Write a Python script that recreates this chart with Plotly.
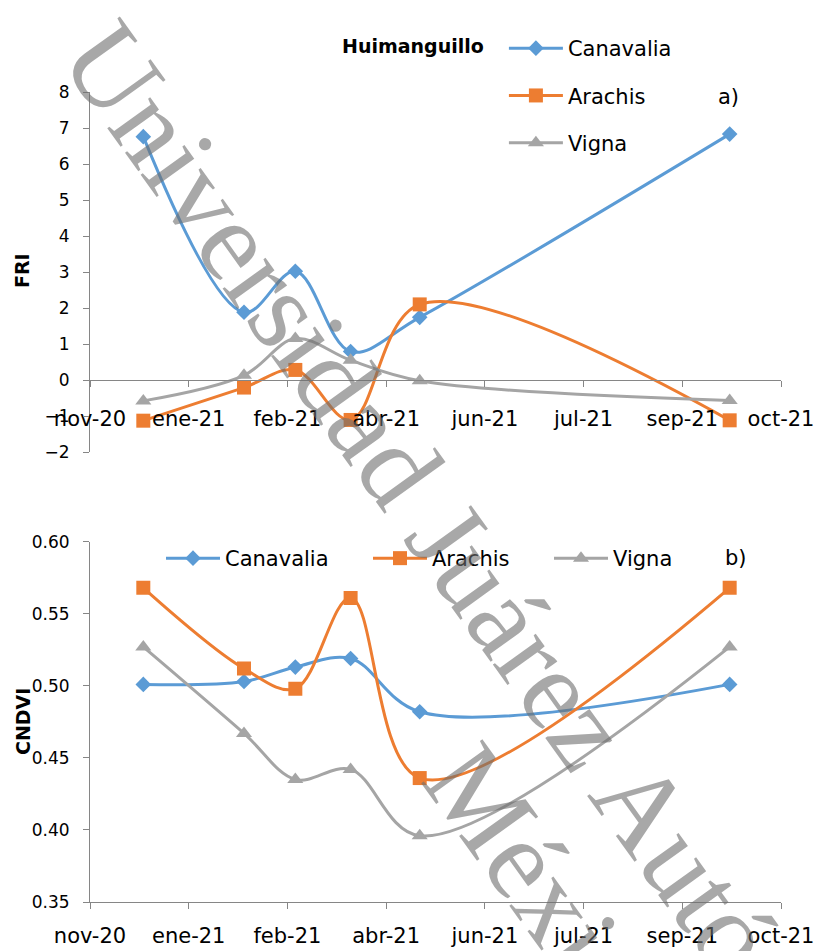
import plotly.graph_objects as go

# ---------------- data ----------------
dates = ["2020-12-11", "2021-01-31", "2021-02-26", "2021-03-26", "2021-04-30", "2021-10-04"]

fri_canavalia = [6.76, 1.88, 3.02, 0.79, 1.74, 6.83]
fri_arachis = [-1.13, -0.21, 0.28, -1.11, 2.10, -1.12]
fri_vigna = [-0.58, 0.13, 1.15, 0.55, -0.02, -0.57]

cndvi_canavalia = [0.501, 0.503, 0.513, 0.519, 0.482, 0.501]
cndvi_arachis = [0.568, 0.512, 0.498, 0.561, 0.436, 0.568]
cndvi_vigna = [0.527, 0.467, 0.435, 0.442, 0.396, 0.527]

x_range = ["2020-11-14", "2021-10-30"]
tick_vals = ["2020-11-14", "2021-01-03", "2021-02-22", "2021-04-13",
             "2021-06-02", "2021-07-22", "2021-09-10", "2021-10-30"]
tick_text = ["nov-20", "ene-21", "feb-21", "abr-21", "jun-21", "jul-21", "sep-21", "oct-21"]

series_names = ["Canavalia", "Arachis", "Vigna"]
colors = ["#5B9BD5", "#ED7D31", "#A5A5A5"]
symbols = ["diamond", "square", "triangle-up"]
sizes = [12, 14, 14]

FONT = "DejaVu Sans"
AXIS_COLOR = "#868686"

# ---------------- geometry helpers ----------------
W, H = 817, 951
ML, MR, MT, MB = 90, 36, 92, 49
PW, PH = W - ML - MR, H - MT - MB


def px(xp):
    return (xp - ML) / PW


def py(yp):
    return (H - MB - yp) / PH


top_dom = [py(452), 1.0]
bot_dom = [0.0, py(541.7)]
zero_pos = top_dom[0] + (top_dom[1] - top_dom[0]) * 0.2

fig = go.Figure()

top_sets = [fri_canavalia, fri_arachis, fri_vigna]
bot_sets = [cndvi_canavalia, cndvi_arachis, cndvi_vigna]
bot_legends = ["legend2", "legend3", "legend4"]
bot_legend_x = [161, 368, 549]

for i, (name, vals) in enumerate(zip(series_names, top_sets)):
    fig.add_trace(go.Scatter(
        x=dates, y=vals, name=name, mode="lines+markers",
        line=dict(color=colors[i], width=3, shape="spline", smoothing=1),
        marker=dict(symbol=symbols[i], size=sizes[i], color=colors[i]),
        xaxis="x", yaxis="y", legend="legend", legendgroup="t" + str(i),
    ))

for i, (name, vals) in enumerate(zip(series_names, bot_sets)):
    fig.add_trace(go.Scatter(
        x=dates, y=vals, name=name, mode="lines+markers",
        line=dict(color=colors[i], width=3, shape="spline", smoothing=1),
        marker=dict(symbol=symbols[i], size=sizes[i], color=colors[i]),
        xaxis="x2", yaxis="y2", legend=bot_legends[i],
    ))

xcommon = dict(
    type="date", range=x_range, tickmode="array", tickvals=tick_vals, ticktext=tick_text,
    showline=True, linecolor=AXIS_COLOR, linewidth=1, ticks="outside", ticklen=6,
    tickcolor=AXIS_COLOR, showgrid=False, zeroline=False, automargin=False,
    tickfont=dict(family=FONT, size=21, color="black"), fixedrange=True,
)
ycommon = dict(
    showline=True, linecolor=AXIS_COLOR, linewidth=1, ticks="outside", ticklen=6,
    tickcolor=AXIS_COLOR, showgrid=False, zeroline=False, automargin=False,
    tickfont=dict(family=FONT, size=17, color="black"), fixedrange=True,
)

legend_layout = {}
for lg, lx in zip(bot_legends, bot_legend_x):
    legend_layout[lg] = dict(
        orientation="h", x=px(lx), xanchor="left", y=py(538), yanchor="top",
        font=dict(family=FONT, size=21, color="black"), bgcolor="rgba(0,0,0,0)", borderwidth=0,
        itemwidth=54,
    )

fig.update_layout(
    template="none",
    width=W, height=H, autosize=False,
    margin=dict(l=ML, r=MR, t=MT, b=MB, pad=0),
    paper_bgcolor="white", plot_bgcolor="white",
    font=dict(family=FONT, color="black"),
    xaxis=dict(**xcommon, anchor="free", position=zero_pos, domain=[0, 1], ticklabelstandoff=14),
    yaxis=dict(**ycommon, domain=top_dom, range=[-2, 8], dtick=1, anchor="x", ticklabelstandoff=10),
    xaxis2=dict(**xcommon, anchor="y2", domain=[0, 1], ticklabelstandoff=9),
    yaxis2=dict(**ycommon, domain=bot_dom, range=[0.35, 0.60], dtick=0.05, tickformat=".2f",
                anchor="x2", ticklabelstandoff=10),
    legend=dict(
        orientation="v", x=px(340), xanchor="left", y=py(28), yanchor="top",
        font=dict(family=FONT, size=21, color="black"),
        title=dict(text="<b>Huimanguillo</b>&nbsp;&nbsp;", side="left",
                   font=dict(family=FONT, size=19, color="black")),
        tracegroupgap=17, bgcolor="rgba(0,0,0,0)", borderwidth=0, itemwidth=54,
    ),
    showlegend=True,
    **legend_layout,
)

annotations = [
    dict(text="a)", x=px(728), y=py(97), xref="paper", yref="paper", showarrow=False,
         xanchor="center", yanchor="middle", font=dict(family=FONT, size=21, color="black")),
    dict(text="b)", x=px(736), y=py(558), xref="paper", yref="paper", showarrow=False,
         xanchor="center", yanchor="middle", font=dict(family=FONT, size=21, color="black")),
    dict(text="<b>FRI</b>", x=px(22), y=py(271), xref="paper", yref="paper", showarrow=False,
         xanchor="center", yanchor="middle",
         textangle=-90, font=dict(family=FONT, size=19, color="black")),
    dict(text="<b>CNDVI</b>", x=px(23), y=py(722), xref="paper", yref="paper", showarrow=False,
         xanchor="center", yanchor="middle",
         textangle=-90, font=dict(family=FONT, size=19, color="black")),
    # watermark
    dict(text="Universidad Juárez Autónoma", x=px(495), y=py(601), xref="paper", yref="paper",
         showarrow=False, textangle=54.3, xanchor="center", yanchor="middle",
         font=dict(family="Liberation Serif", size=115, color="rgba(110,110,110,0.6)")),
    dict(text="México", x=px(553.1), y=py(900), xref="paper", yref="paper",
         showarrow=False, textangle=54.3, xanchor="center", yanchor="middle",
         font=dict(family="Liberation Serif", size=115, color="rgba(110,110,110,0.6)")),
]
fig.update_layout(annotations=annotations)

fig.write_html(
    "out.html",
    config={"displayModeBar": False, "staticPlot": True, "responsive": False},
    post_script=(
        "var st=document.createElement('style');"
        "st.textContent='html,body{margin:0;padding:0;overflow:hidden;width:817px;height:951px;}"
        "svg{overflow:hidden !important;} .plotly-graph-div{overflow:hidden;}';"
        "document.head.appendChild(st);"
    ),
)
